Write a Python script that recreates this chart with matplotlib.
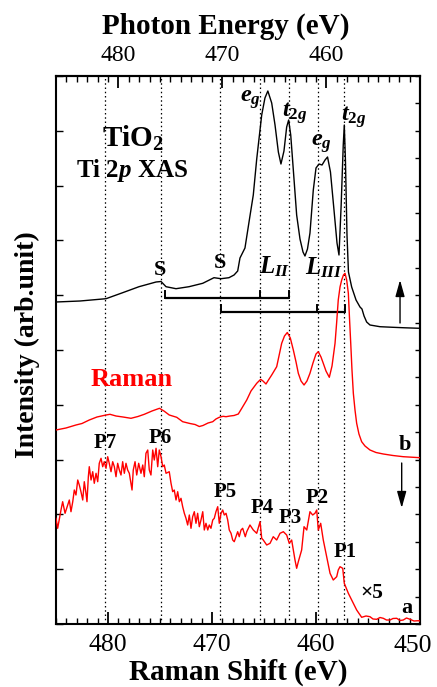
import matplotlib
matplotlib.use('Agg')
import matplotlib.pyplot as plt
from matplotlib.ticker import MultipleLocator, FixedLocator
import matplotlib.transforms as mtransforms
import numpy as np

plt.rcParams['font.family'] = ['Liberation Serif', 'DejaVu Serif']
plt.rcParams['mathtext.fontset'] = 'custom'
plt.rcParams['mathtext.rm'] = 'Liberation Serif:bold'
plt.rcParams['mathtext.it'] = 'Liberation Serif:italic:bold'
plt.rcParams['mathtext.bf'] = 'Liberation Serif:bold'

# ---------------- data ----------------
PHOTON_OFFSET = 1.0  # photon energy = Raman shift + offset (top axis)

raman_ticks = [480, 470, 460, 450]
photon_ticks = [480, 470, 460]

# Ti 2p XAS (vs photon energy, eV)
xas_energy = [486.0, 483.69, 481.19, 479.59, 478.02, 476.38, 475.90, 475.42, 474.46, 473.21,
              471.89, 470.81, 470.13, 469.37, 468.88, 468.53, 468.31, 467.83, 467.35, 467.03,
              466.70, 466.22, 465.91, 465.63, 465.26, 464.94, 464.62, 464.37, 464.08, 463.82,
              463.63, 463.43, 463.18, 462.86, 462.54, 462.25, 462.06, 461.82, 461.58, 461.26,
              461.00, 460.71, 460.42, 460.13, 459.89, 459.61, 459.27, 458.98, 458.79, 458.58,
              458.38, 458.28, 458.17, 458.02, 457.88, 457.57, 457.15, 456.77, 456.58, 456.38,
              456.13, 455.81, 454.85, 453.60, 452.44, 451.0]
xas_intensity = [322, 323, 325.3, 331.3, 337.3, 342, 342.5, 337.3, 335.3, 337.3,
                 340.7, 346.3, 345.3, 346.3, 349, 353, 366, 376, 408, 429,
                 465, 509, 526, 533, 521, 499, 472, 460, 473, 497,
                 504, 489, 454, 409, 385, 372, 368, 375, 391, 434,
                 456, 460, 459, 464, 467, 452, 414, 381, 369, 419,
                 479, 499, 464, 389, 352, 337, 324, 317, 315, 308,
                 302, 299, 297.3, 296.7, 296.2, 295.7]

# Raman spectrum b (vs Raman shift, eV)
raman_b_shift = [485.0, 484.04, 483.08, 482.50, 481.80, 481.06, 480.19, 479.81, 479.23, 478.56,
                 477.79, 477.12, 476.51, 475.77, 475.05, 474.62, 474.11, 473.39, 472.82, 472.12,
                 471.63, 471.22, 470.87, 470.38, 469.93, 469.62, 469.30, 468.94, 468.65, 468.27,
                 467.88, 467.47, 467.12, 466.66, 466.25, 465.70, 465.32, 465.10, 464.81, 464.57,
                 464.26, 463.78, 463.56, 463.30, 463.03, 462.76, 462.47, 462.18, 461.92, 461.70,
                 461.44, 461.15, 460.87, 460.58, 460.29, 460.00, 459.78, 459.52, 459.30, 459.04,
                 458.72, 458.46, 458.17, 458.01, 457.86, 457.69, 457.53, 457.36, 457.21, 457.05,
                 456.89, 456.78, 456.66, 456.54, 456.41, 456.25, 456.09, 455.87, 455.61, 455.29,
                 454.81, 454.23, 453.53, 452.60, 451.61, 450.0]
raman_b_intensity = [194, 196, 199, 200.5, 204, 207, 209, 209.7, 208, 207,
                     205.7, 207.5, 209.7, 213, 215.7, 213, 209, 206.7, 202.3, 200.5,
                     199.5, 197.5, 198.5, 201, 202.3, 205, 206.7, 207.7, 207.3, 208,
                     208.5, 210, 216, 224, 233, 240.7, 244.7, 243, 240, 244,
                     249, 257.3, 268, 280.7, 288, 291.5, 286, 274, 262, 250.7,
                     243, 239, 243, 250.7, 261, 270, 272.3, 267, 260.7, 253,
                     246.7, 258, 280.7, 302, 324, 337, 344, 349, 350.7, 344,
                     330.7, 306, 280.7, 254, 230.7, 214, 200.7, 190, 182.3, 178,
                     174, 171.5, 170, 168.5, 167.3, 166.3]

# Raman spectrum a (x5, vs Raman shift, eV)
raman_a_shift = [485.00, 484.84, 484.52, 484.36, 484.13, 483.88, 483.72, 483.56, 483.39, 483.24,
                 483.08, 482.91, 482.76, 482.60, 482.43, 482.28, 482.12, 482.02, 481.89, 481.80,
                 481.63, 481.47, 481.32, 481.15, 480.99, 480.84, 480.67, 480.51, 480.36, 480.19,
                 480.03, 479.88, 479.71, 479.55, 479.39, 479.23, 479.07, 478.91, 478.75, 478.59,
                 478.43, 478.27, 478.11, 477.95, 477.69, 477.57, 477.40, 477.24, 477.05, 476.83,
                 476.66, 476.51, 476.35, 476.18, 476.03, 475.87, 475.70, 475.55, 475.38, 475.22,
                 475.07, 474.90, 474.74, 474.59, 474.42, 474.11, 473.94, 473.78, 473.63, 473.46,
                 473.30, 473.14, 472.98, 472.82, 472.66, 472.50, 472.34, 472.18, 472.02, 471.86,
                 471.70, 471.54, 471.38, 471.22, 471.06, 470.89, 470.74, 470.58, 470.41, 470.26,
                 470.10, 469.93, 469.78, 469.62, 469.45, 469.30, 469.13, 468.97, 468.82, 468.65,
                 468.49, 468.34, 468.17, 468.01, 467.86, 467.69, 467.53, 467.38, 467.21, 467.05,
                 466.80, 466.66, 466.35, 466.03, 465.70, 465.38, 465.22, 465.07, 464.74, 464.42,
                 464.11, 463.78, 463.46, 463.14, 462.82, 462.57, 462.34, 462.02, 461.86, 461.70,
                 461.38, 461.15, 460.89, 460.58, 460.32, 460.10, 459.93, 459.78, 459.55, 459.30,
                 458.97, 458.65, 458.34, 458.01, 457.86, 457.69, 457.43, 457.28, 456.89, 456.57,
                 456.09, 455.61, 455.19, 454.81, 454.52, 454.16, 453.85, 453.53, 453.22, 452.88,
                 452.60, 452.24, 451.92, 451.61, 451.30, 450.96, 450.58, 450.16, 450.0]
raman_a_intensity = [105.7, 95.7, 114, 122.3, 110.7, 119, 124, 112.3, 122.3, 134,
                     129, 144, 139, 132.3, 124, 142.3, 130.7, 122.3, 147.3, 157.3,
                     144, 152.3, 140.7, 150.7, 142.3, 160.7, 165.7, 157.3, 162.3, 155.7,
                     167.3, 160.7, 152.3, 162.3, 157.3, 147.3, 160.7, 154, 149, 162.3,
                     150.7, 160.7, 154, 150.7, 134, 154, 162.3, 149, 160.7, 150.7,
                     159, 147.3, 170.7, 174, 154, 149, 174, 164, 175.7, 157.3,
                     174, 167.3, 157.3, 159, 150.7, 152.3, 140.7, 132.3, 134, 124,
                     132.3, 122.3, 125.7, 117.3, 110.7, 105.7, 99, 109, 95.7, 107.3,
                     112.3, 100.7, 110.7, 97.3, 104, 112.3, 94, 100.7, 94, 99,
                     95.7, 104, 105.7, 112.3, 117.3, 100.7, 110.7, 114, 109, 110.7,
                     104, 94, 90.7, 84, 82.3, 87.3, 92.3, 87.3, 94, 95.7,
                     87.3, 92.3, 99, 94, 90.7, 102.3, 85.7, 84, 79, 80.7,
                     87.3, 84, 90.7, 92.3, 89, 80.7, 84, 64, 55.7, 62.3,
                     74, 97.3, 94, 112.3, 109, 110.7, 114, 94, 100.7, 84,
                     67.3, 50.7, 44, 47.3, 54, 57.3, 55.7, 40.7, 30.7, 24,
                     14, 6.7, 8, 7.3, 5, 4.7, 6.5, 5.7, 4, 4,
                     5.5, 5.7, 3.5, 4, 6, 4.7, 3, 3.3, 3]

# feature positions (Raman shift, eV)
feature_shift = [480.3, 474.9, 469.2, 465.4, 462.6, 459.85, 457.3]
peak_labels = ['P7', 'P6', 'P5', 'P4', 'P3', 'P2', 'P1']
peak_label_x = [480.29, 475.0, 468.75, 465.22, 462.5, 459.93, 457.21]
peak_label_y = [180.7, 185.7, 132.3, 115.7, 105.7, 125.7, 72.3]

# satellite brackets (Raman shift, eV)
bracket_L2 = [474.52, 465.38, 462.62]
bracket_L3 = [469.13, 459.93, 457.21]
bracket_L2_y = 326.3
bracket_L3_y = 312.3

# ---------------- figure ----------------
fig = plt.figure(figsize=(4.37, 6.87), dpi=100)
ax = fig.add_axes([56/437, 1-624/687, 364/437, 548/687])
ax.set_xlim(485, 450)
ax.set_ylim(0, 548)

for xv in feature_shift:
    ax.axvline(xv, color='black', lw=0.9, ls=(0, (1.2, 2.2)), zorder=1)

xas_shift = [e - PHOTON_OFFSET for e in xas_energy]
ax.plot(xas_shift, xas_intensity, color='black', lw=1.0, zorder=3)
ax.plot(raman_b_shift, raman_b_intensity, color='red', lw=1.0, zorder=4)
ax.plot(raman_a_shift, raman_a_intensity, color='red', lw=1.0, zorder=4)

# brackets
tick_h = 7
for xs, yb in ((bracket_L2, bracket_L2_y), (bracket_L3, bracket_L3_y)):
    ax.plot([xs[0], xs[-1]], [yb, yb], color='black', lw=1.6, zorder=3, solid_capstyle='butt')
    for xv in xs:
        ax.plot([xv, xv], [yb, yb + tick_h], color='black', lw=1.4, zorder=3)

# labels on spectrum
bold = dict(fontweight='bold', ha='center', va='center')
ax.text(475.0, 354, 'S', fontsize=16, **bold)
ax.text(469.23, 361.3, 'S', fontsize=16, **bold)
ax.text(463.94, 357.3, r'$L_{II}$', fontsize=18, ha='center', va='center')
ax.text(459.2, 356.0, r'$L_{III}$', fontsize=18, ha='center', va='center')
ax.text(466.35, 524, r'$e_g$', fontsize=17.5, ha='center', va='center')
ax.text(462.02, 510.7, r'$t_{2g}$', fontsize=17.5, ha='center', va='center')
ax.text(459.45, 480.7, r'$e_g$', fontsize=17.5, ha='center', va='center')
ax.text(456.41, 507.3, r'$t_{2g}$', fontsize=17.5, ha='center', va='center')
ax.text(477.57, 485.7, r'TiO$_\mathrm{2}$', fontsize=21, **bold)
ax.text(477.72, 454, r'Ti 2$p$ XAS', fontsize=18, **bold)
ax.text(477.72, 244, 'Raman', fontsize=19, color='red', **bold)
for lab, xv, yv in zip(peak_labels, peak_label_x, peak_label_y):
    ax.text(xv, yv, lab, fontsize=15, **bold)
ax.text(454.64, 30.7, '×5', fontsize=15.5, **bold)
ax.text(451.28, 15.7, 'a', fontsize=16, **bold)
ax.text(451.44, 179, 'b', fontsize=16, **bold)

arrow = dict(arrowstyle='-|>,head_length=1.0,head_width=0.28', color='black', lw=1.0,
             mutation_scale=10, shrinkA=0, shrinkB=0)
ax.annotate('', xy=(451.92, 344), xytext=(451.92, 301), arrowprops=arrow)
ax.annotate('', xy=(451.76, 116), xytext=(451.76, 161), arrowprops=arrow)

# ---------------- axes styling ----------------
for sp in ax.spines.values():
    sp.set_linewidth(1.5)

ax.xaxis.set_major_locator(FixedLocator(raman_ticks))
ax.xaxis.set_minor_locator(MultipleLocator(1))
# last label (450) sits at the right spine; draw it slightly inward so it stays in the figure
ax.set_xticklabels([str(t) for t in raman_ticks[:-1]] + [''])
ax.tick_params(axis='x', which='major', direction='in', length=8.6, width=1.3,
               labelsize=18.5, pad=7, top=False)
ax.tick_params(axis='x', which='minor', direction='in', length=4.3, width=1.0, top=False)
shift_left = mtransforms.ScaledTranslation(-7 / 100, 0, fig.dpi_scale_trans)
ax.text(raman_ticks[-1], (624 - 646) / 548, str(raman_ticks[-1]), fontsize=18.5,
        ha='center', va='center',
        transform=ax.get_xaxis_transform() + shift_left, clip_on=False)

ax.yaxis.set_major_locator(FixedLocator(np.arange(0, 549, 54.8)))
ax.yaxis.set_minor_locator(FixedLocator([]))
ax.tick_params(axis='y', which='major', direction='in', length=5, width=1.0,
               labelleft=False, right=False)

secx = ax.secondary_xaxis('top', functions=(lambda r: r + PHOTON_OFFSET,
                                             lambda p: p - PHOTON_OFFSET))
secx.xaxis.set_major_locator(FixedLocator(photon_ticks))
secx.xaxis.set_minor_locator(FixedLocator(list(range(452, 486))))
secx.tick_params(axis='x', which='major', direction='in', length=8.6, width=1.3,
                 labelsize=17, pad=7)
secx.tick_params(axis='x', which='minor', direction='in', length=4.3, width=1.0)
secx.spines['top'].set_linewidth(1.5)

secy = ax.secondary_yaxis('right')
secy.yaxis.set_major_locator(FixedLocator(np.arange(0, 549, 27.4)))
secy.tick_params(axis='y', direction='in', length=3.6, width=1.0, labelright=False)
secy.spines['right'].set_linewidth(1.5)

ax.set_xlabel('Raman Shift (eV)', fontsize=21, fontweight='bold', va='center')
ax.xaxis.set_label_coords(0.5, (624 - 672) / 548)
ax.set_ylabel('Intensity (arb.unit)', fontsize=20, fontweight='bold', va='center')
ax.yaxis.set_label_coords((27 - 56) / 364, (624 - 345) / 548)
fig.text(226 / 437, 1 - 26 / 687, 'Photon Energy (eV)', fontsize=21, fontweight='bold',
         ha='center', va='center')

fig.savefig('out.png', dpi=100)
